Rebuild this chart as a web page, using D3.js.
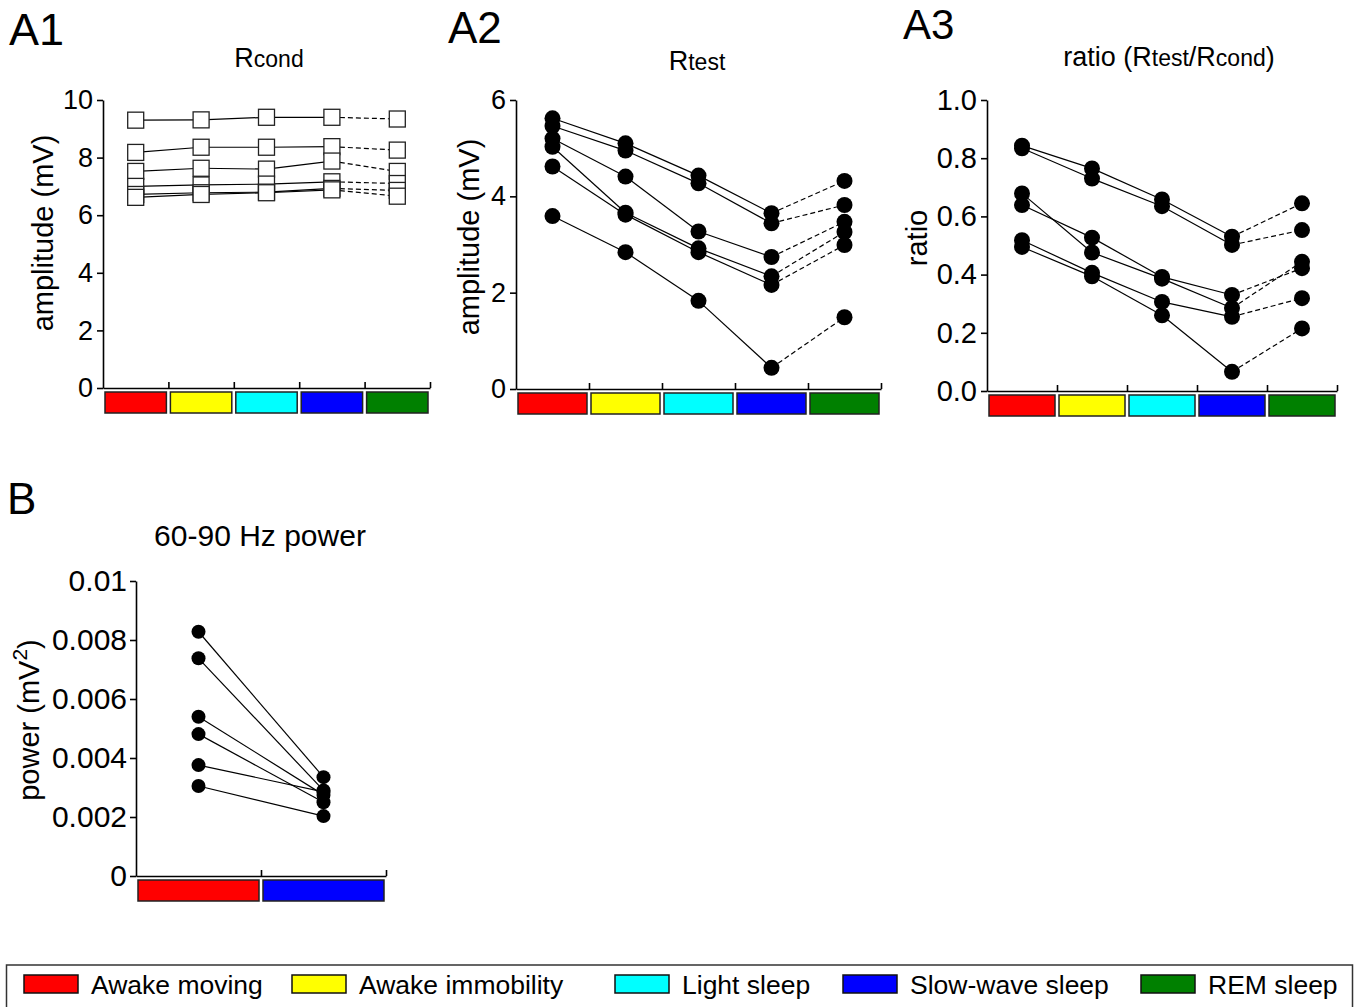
<!doctype html>
<html>
<head>
<meta charset="utf-8">
<script src="https://d3js.org/d3.v7.min.js"></script>
<style>
  body { margin: 0; background: #fff; }
  text { font-family: "Liberation Sans", Arial, sans-serif; fill: #000; }
</style>
</head>
<body>
<div id="fig"></div>
<script>
// behavioural states (x categories) and their colours
var states = ["Awake moving", "Awake immobility", "Light sleep", "Slow-wave sleep", "REM sleep"];
var stateColors = ["#ff0000", "#ffff00", "#00ffff", "#0000ff", "#008000"];

// A1: Rcond amplitude (mV), one row per animal, one value per state
var rcond = [
  [9.30, 9.31, 9.40, 9.40, 9.34],
  [8.18, 8.36, 8.36, 8.38, 8.26],
  [7.52, 7.63, 7.60, 7.88, 7.52],
  [7.00, 7.05, 7.08, 7.16, 7.10],
  [6.72, 6.78, 6.80, 6.93, 6.86],
  [6.62, 6.72, 6.78, 6.88, 6.66]
];
// A2: Rtest amplitude (mV)
var rtest = [
  [5.62, 5.10, 4.43, 3.65, 4.32],
  [5.46, 4.95, 4.27, 3.44, 3.82],
  [5.20, 4.41, 3.27, 2.74, 3.47],
  [5.03, 3.66, 2.92, 2.34, 3.26],
  [4.62, 3.62, 2.84, 2.16, 2.99],
  [3.59, 2.84, 1.83, 0.44, 1.49]
];
// A3: ratio Rtest/Rcond
var ratio = [
  [0.843, 0.765, 0.658, 0.530, 0.645],
  [0.834, 0.730, 0.635, 0.502, 0.553],
  [0.679, 0.476, 0.386, 0.285, 0.444],
  [0.639, 0.527, 0.392, 0.330, 0.422],
  [0.518, 0.406, 0.306, 0.255, 0.319],
  [0.495, 0.394, 0.260, 0.066, 0.215]
];
// B: 60-90 Hz power (mV^2), awake moving vs slow-wave sleep
var powerStates = [0, 3];   // indices into states
var power = [
  [0.00828, 0.00335],
  [0.00738, 0.00290],
  [0.00540, 0.00275],
  [0.00481, 0.00250],
  [0.00376, 0.00285],
  [0.00305, 0.00203]
];

// tick values and labels
var ampTicks1 = [0, 2, 4, 6, 8, 10];
var ampLabels1 = ["0", "2", "4", "6", "8", "10"];
var ampTicks2 = [0, 2, 4, 6];
var ampLabels2 = ["0", "2", "4", "6"];
var ratioTicks = [0, 0.2, 0.4, 0.6, 0.8, 1.0];
var ratioLabels = ["0.0", "0.2", "0.4", "0.6", "0.8", "1.0"];
var powerTicks = [0, 0.002, 0.004, 0.006, 0.008, 0.01];
var powerLabels = ["0", "0.002", "0.004", "0.006", "0.008", "0.01"];

var W = 1361, H = 1007;
var svg = d3.select("#fig").append("svg")
  .attr("width", W).attr("height", H)
  .style("display", "block");
svg.append("rect").attr("width", W).attr("height", H).attr("fill", "#fff");

function panel(cfg) {
  var g = svg.append("g");
  var n = cfg.cats.length;
  var x = d3.scaleBand().domain(d3.range(n)).range([cfg.x0, cfg.x1]);
  var xb = d3.scaleLinear().domain([0, n]).range([cfg.x0, cfg.x1]);
  var y = d3.scaleLinear().domain([0, cfg.ticks[cfg.ticks.length - 1]]).range([cfg.yBot, cfg.yTop]);
  var cx = function(i) { return x(i) + x.bandwidth() / 2; };

  // y axis
  var ya = g.append("g").attr("transform", "translate(" + cfg.x0 + ",0)")
    .call(d3.axisLeft(y).tickValues(cfg.ticks)
      .tickFormat(function(d, i) { return cfg.labels[i]; })
      .tickSizeInner(6).tickSizeOuter(0).tickPadding(cfg.pad || 4));
  ya.selectAll("text").style("font-size", cfg.tickFont + "px").attr("font-family", null);
  ya.selectAll("path, line").attr("stroke", "#000").attr("stroke-width", 1.6);

  // x axis: ticks pointing up at band edges
  var xa = g.append("g").attr("transform", "translate(0," + cfg.yBot + ")")
    .call(d3.axisBottom(xb).tickValues(d3.range(1, n + 1))
      .tickFormat("").tickSizeInner(-6).tickSizeOuter(0));
  xa.selectAll("path, line").attr("stroke", "#000").attr("stroke-width", 1.6);

  // coloured state bars under the axis
  g.append("g").selectAll("rect").data(cfg.cats).enter().append("rect")
    .attr("x", function(d, i) { return x(i) + 2; })
    .attr("y", cfg.yBot + 4)
    .attr("width", x.bandwidth() - 4)
    .attr("height", 21)
    .attr("fill", function(d) { return stateColors[d]; })
    .attr("stroke", "#222").attr("stroke-width", 1.5);

  // series: segments then markers
  cfg.series.forEach(function(row) {
    var sg = g.append("g");
    for (var i = 0; i < row.length - 1; i++) {
      sg.append("line")
        .attr("x1", cx(i)).attr("y1", y(row[i]))
        .attr("x2", cx(i + 1)).attr("y2", y(row[i + 1]))
        .attr("stroke", "#000").attr("stroke-width", 1.2)
        .attr("stroke-dasharray", (cfg.dashLast && i === row.length - 2) ? "5,3" : null);
    }
    if (cfg.marker === "square") {
      sg.selectAll("rect").data(row).enter().append("rect")
        .attr("x", function(d, i) { return cx(i) - 8; })
        .attr("y", function(d) { return y(d) - 8; })
        .attr("width", 16).attr("height", 16)
        .attr("fill", "#fff").attr("stroke", "#222").attr("stroke-width", 1.3);
    } else {
      sg.selectAll("circle").data(row).enter().append("circle")
        .attr("cx", function(d, i) { return cx(i); })
        .attr("cy", function(d) { return y(d); })
        .attr("r", cfg.r).attr("fill", "#000");
    }
  });

  // y label
  var yl = g.append("text")
    .attr("transform", "translate(" + cfg.ylx + "," + cfg.yly + ") rotate(-90)")
    .attr("text-anchor", "middle")
    .style("font-size", "29px");
  cfg.ylabel(yl);

  // title
  var t = g.append("text")
    .attr("x", cfg.tx).attr("y", cfg.ty)
    .attr("text-anchor", "middle");
  cfg.title(t);

  // panel letter
  g.append("text").attr("x", cfg.lx).attr("y", cfg.ly)
    .style("font-size", cfg.lf + "px").text(cfg.letter);
}

function sub(t, big, small) {
  t.append("tspan").style("font-size", "27px").text(big);
  t.append("tspan").style("font-size", "23px").text(small);
}

panel({
  letter: "A1", lx: 9, ly: 45, lf: 45,
  x0: 103, x1: 430, yTop: 100, yBot: 388,
  cats: [0, 1, 2, 3, 4], ticks: ampTicks1, labels: ampLabels1, tickFont: 27,
  series: rcond, marker: "square", dashLast: true,
  ylx: 53, yly: 233,
  ylabel: function(t) { t.text("amplitude (mV)"); },
  tx: 269, ty: 67,
  title: function(t) { sub(t, "R", "cond"); }
});

panel({
  letter: "A2", lx: 448, ly: 43, lf: 44,
  x0: 516, x1: 881, yTop: 100, yBot: 389,
  cats: [0, 1, 2, 3, 4], ticks: ampTicks2, labels: ampLabels2, tickFont: 27,
  series: rtest, marker: "circle", r: 8, dashLast: true,
  ylx: 479, yly: 237,
  ylabel: function(t) { t.text("amplitude (mV)"); },
  tx: 697, ty: 70,
  title: function(t) { sub(t, "R", "test"); }
});

panel({
  letter: "A3", lx: 903, ly: 39, lf: 42,
  x0: 987, x1: 1337, yTop: 100, yBot: 391,
  cats: [0, 1, 2, 3, 4], ticks: ratioTicks, labels: ratioLabels, tickFont: 29,
  series: ratio, marker: "circle", r: 8, dashLast: true,
  ylx: 927, yly: 238,
  ylabel: function(t) { t.text("ratio"); },
  tx: 1169, ty: 66,
  title: function(t) {
    t.append("tspan").style("font-size", "27px").text("ratio (");
    sub(t, "R", "test");
    sub(t, "/R", "cond");
    t.append("tspan").style("font-size", "27px").text(")");
  }
});

panel({
  letter: "B", lx: 7, ly: 514, lf: 44,
  x0: 136, x1: 386, yTop: 581, yBot: 876,
  cats: powerStates, ticks: powerTicks, labels: powerLabels, tickFont: 30, pad: 3,
  series: power, marker: "circle", r: 7, dashLast: false,
  ylx: 39, yly: 720,
  ylabel: function(t) {
    t.append("tspan").text("power (mV");
    t.append("tspan").attr("dy", -12).style("font-size", "21px").text("2");
    t.append("tspan").attr("dy", 12).text(")");
  },
  tx: 260, ty: 546,
  title: function(t) { t.style("font-size", "30px").text("60-90 Hz power"); }
});

// legend (swatch left edges follow the reference layout)
var legendX = [24, 292, 615, 843, 1141];
var lg = svg.append("g");
lg.append("rect").attr("x", 6.5).attr("y", 965).attr("width", 1346).attr("height", 80)
  .attr("fill", "none").attr("stroke", "#333").attr("stroke-width", 1.5);
states.forEach(function(s, i) {
  lg.append("rect").attr("x", legendX[i]).attr("y", 975).attr("width", 54).attr("height", 18)
    .attr("fill", stateColors[i]).attr("stroke", "#111").attr("stroke-width", 1.5);
  lg.append("text").attr("x", legendX[i] + 67).attr("y", 994)
    .style("font-size", "26.5px").text(s);
});
</script>
</body>
</html>
